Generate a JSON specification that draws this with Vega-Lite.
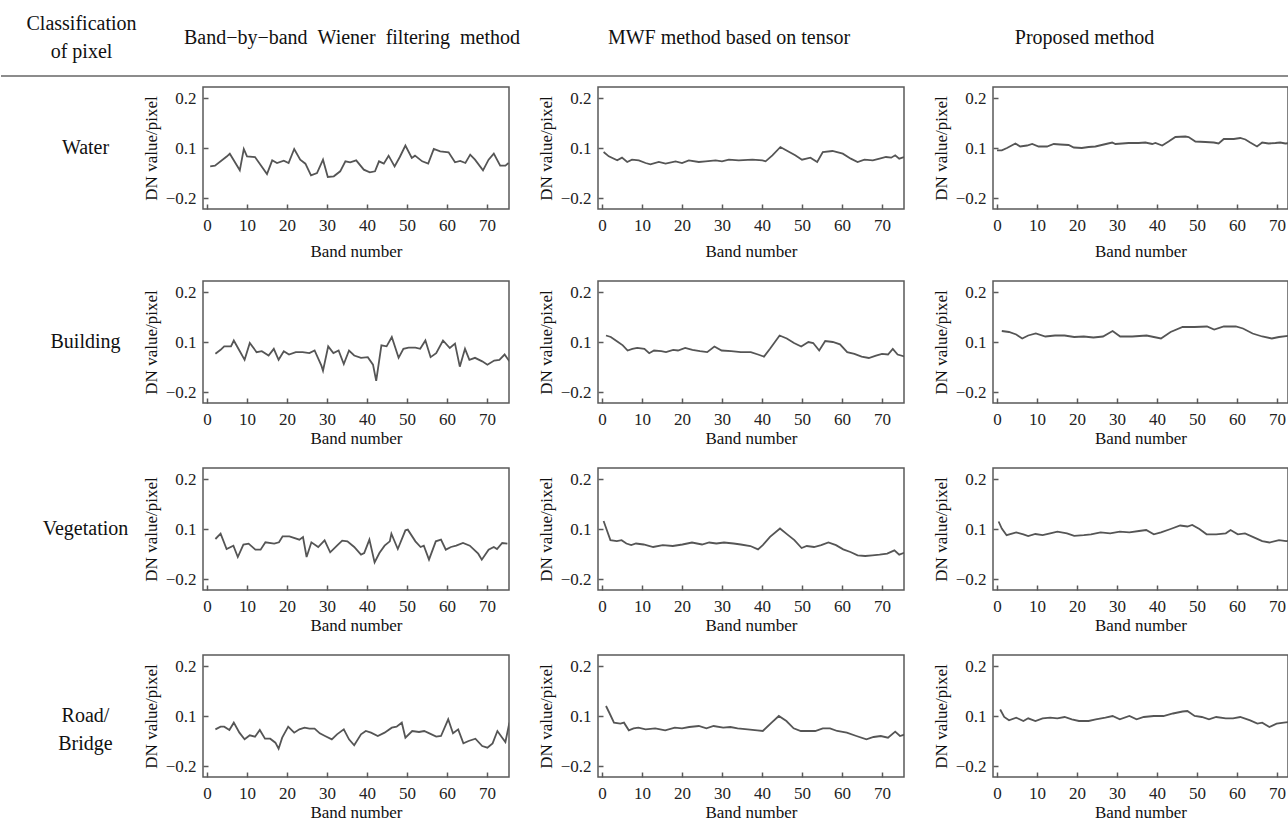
{
"$schema": "https://vega.github.io/schema/vega-lite/v6.json",
"padding": 0,
"background": "white",
"spacing": 0,
"config": {
  "font": "Liberation Serif",
  "view": {"stroke": "#5a5a5a", "strokeWidth": 1.5},
  "axis": {"grid": false, "domain": false, "tickColor": "#5a5a5a", "tickWidth": 1.5, "tickSize": -5, "labelFont": "Liberation Serif", "labelFontSize": 17, "labelColor": "#222", "titleFont": "Liberation Serif", "titleFontSize": 17, "titleFontWeight": "normal", "titleColor": "#111", "labelOverlap": false, "labelFlush": false},
  "axisX": {"labelPadding": 13},
  "axisY": {"labelPadding": 12, "titlePadding": 5},
  "line": {"color": "#555", "strokeWidth": 1.8},
  "text": {"font": "Liberation Serif", "fontSize": 20, "color": "#111"}
},
"datasets": {
"water_bbb": [{"band":0.8,"dn":-0.01},{"band":2,"dn":-0.006},{"band":5,"dn":0.05},{"band":5.7,"dn":0.066},{"band":8.2,"dn":-0.034},{"band":9.2,"dn":0.094},{"band":10,"dn":0.05},{"band":12,"dn":0.046},{"band":15,"dn":-0.056},{"band":16.3,"dn":0.026},{"band":17.5,"dn":0.01},{"band":19.2,"dn":0.024},{"band":20.4,"dn":0.01},{"band":21.8,"dn":0.094},{"band":23.3,"dn":0.03},{"band":24.6,"dn":0.006},{"band":26,"dn":-0.064},{"band":27.5,"dn":-0.05},{"band":29,"dn":0.03},{"band":30.2,"dn":-0.074},{"band":31.7,"dn":-0.07},{"band":33.3,"dn":-0.04},{"band":34.6,"dn":0.02},{"band":35.8,"dn":0.014},{"band":37.3,"dn":0.026},{"band":39.2,"dn":-0.03},{"band":40.7,"dn":-0.046},{"band":42,"dn":-0.04},{"band":43,"dn":0.02},{"band":44.2,"dn":0.006},{"band":45.4,"dn":0.054},{"band":46.9,"dn":-0.01},{"band":48.2,"dn":0.046},{"band":49.6,"dn":0.105},{"band":51.2,"dn":0.04},{"band":52,"dn":0.054},{"band":53.8,"dn":0.02},{"band":55.3,"dn":0.006},{"band":56.7,"dn":0.094},{"band":58.3,"dn":0.08},{"band":60.4,"dn":0.074},{"band":62,"dn":0.014},{"band":63.3,"dn":0.022},{"band":64.6,"dn":0.01},{"band":65.8,"dn":0.06},{"band":67,"dn":0.03},{"band":69,"dn":-0.034},{"band":70.4,"dn":0.03},{"band":71.7,"dn":0.066},{"band":73.3,"dn":-0.006},{"band":74.6,"dn":-0.006},{"band":75.4,"dn":0.01}],
"water_mwf": [{"band":0.4,"dn":0.076},{"band":1.7,"dn":0.05},{"band":3.8,"dn":0.026},{"band":5,"dn":0.042},{"band":6.3,"dn":0.016},{"band":7.5,"dn":0.03},{"band":9.2,"dn":0.026},{"band":10.9,"dn":0.01},{"band":12.1,"dn":0.002},{"band":14.2,"dn":0.016},{"band":15.9,"dn":0.006},{"band":18.4,"dn":0.02},{"band":20,"dn":0.01},{"band":21.7,"dn":0.026},{"band":24.2,"dn":0.016},{"band":25.9,"dn":0.02},{"band":28.4,"dn":0.026},{"band":30,"dn":0.02},{"band":31.7,"dn":0.03},{"band":34.2,"dn":0.026},{"band":37.6,"dn":0.03},{"band":40.1,"dn":0.026},{"band":40.9,"dn":0.02},{"band":42.6,"dn":0.056},{"band":44.6,"dn":0.102},{"band":45.8,"dn":0.09},{"band":48.3,"dn":0.056},{"band":50,"dn":0.03},{"band":52.1,"dn":0.042},{"band":53.8,"dn":0.016},{"band":55.2,"dn":0.076},{"band":57.6,"dn":0.082},{"band":60.2,"dn":0.066},{"band":62.2,"dn":0.036},{"band":63.9,"dn":0.016},{"band":65.6,"dn":0.03},{"band":67.7,"dn":0.026},{"band":69.4,"dn":0.036},{"band":71,"dn":0.046},{"band":72.3,"dn":0.042},{"band":73.3,"dn":0.056},{"band":74.3,"dn":0.036},{"band":75.5,"dn":0.046}],
"water_prop": [{"band":0,"dn":0.086},{"band":1.2,"dn":0.086},{"band":2.5,"dn":0.1},{"band":4.6,"dn":0.109},{"band":5.8,"dn":0.103},{"band":7.5,"dn":0.105},{"band":8.8,"dn":0.108},{"band":10.4,"dn":0.103},{"band":12.5,"dn":0.103},{"band":14.2,"dn":0.108},{"band":15.8,"dn":0.107},{"band":17.9,"dn":0.106},{"band":19.2,"dn":0.101},{"band":21.2,"dn":0.1},{"band":22.9,"dn":0.102},{"band":24.6,"dn":0.103},{"band":26.7,"dn":0.107},{"band":28.8,"dn":0.111},{"band":29.6,"dn":0.108},{"band":31.3,"dn":0.109},{"band":32.9,"dn":0.11},{"band":35.4,"dn":0.11},{"band":37.1,"dn":0.111},{"band":38.8,"dn":0.108},{"band":39.6,"dn":0.11},{"band":41.3,"dn":0.105},{"band":42.9,"dn":0.113},{"band":44.6,"dn":0.122},{"band":47.1,"dn":0.123},{"band":47.9,"dn":0.122},{"band":49.6,"dn":0.113},{"band":52.1,"dn":0.112},{"band":54.2,"dn":0.111},{"band":55.4,"dn":0.109},{"band":56.7,"dn":0.118},{"band":59.2,"dn":0.118},{"band":60.8,"dn":0.12},{"band":62.1,"dn":0.117},{"band":63.3,"dn":0.111},{"band":65,"dn":0.103},{"band":66.3,"dn":0.111},{"band":67.9,"dn":0.109},{"band":69.6,"dn":0.11},{"band":70.8,"dn":0.111},{"band":72.1,"dn":0.109},{"band":73.3,"dn":0.11}],
"building_bbb": [{"band":2.1,"dn":0.029},{"band":3.4,"dn":0.053},{"band":4.3,"dn":0.074},{"band":6,"dn":0.074},{"band":6.7,"dn":0.103},{"band":8.1,"dn":0.049},{"band":9.4,"dn":-0.007},{"band":10.7,"dn":0.094},{"band":12.4,"dn":0.039},{"band":13.7,"dn":0.045},{"band":15.4,"dn":0.019},{"band":16.7,"dn":0.059},{"band":17.9,"dn":-0.007},{"band":19.2,"dn":0.045},{"band":20.5,"dn":0.025},{"band":22.2,"dn":0.039},{"band":23.9,"dn":0.039},{"band":25.6,"dn":0.033},{"band":26.9,"dn":0.049},{"band":28.6,"dn":-0.042},{"band":29,"dn":-0.072},{"band":30.3,"dn":0.074},{"band":31.6,"dn":0.033},{"band":32.9,"dn":0.049},{"band":34.2,"dn":-0.032},{"band":35.5,"dn":0.049},{"band":36.8,"dn":0.019},{"band":38.5,"dn":0.005},{"band":40.2,"dn":0.009},{"band":41.5,"dn":-0.036},{"band":42.3,"dn":-0.133},{"band":43.6,"dn":0.08},{"band":44.9,"dn":0.074},{"band":46.2,"dn":0.11},{"band":47.9,"dn":0.005},{"band":49.1,"dn":0.059},{"band":50.4,"dn":0.066},{"band":52.1,"dn":0.066},{"band":53.3,"dn":0.059},{"band":54.6,"dn":0.103},{"band":55.9,"dn":0.009},{"band":57.3,"dn":0.033},{"band":59,"dn":0.103},{"band":60.7,"dn":0.064},{"band":62,"dn":0.09},{"band":63.2,"dn":-0.048},{"band":64.5,"dn":0.059},{"band":65.6,"dn":-0.007},{"band":67,"dn":0.005},{"band":68.8,"dn":-0.016},{"band":70.1,"dn":-0.036},{"band":71.8,"dn":-0.011},{"band":73.1,"dn":-0.007},{"band":74.4,"dn":0.025},{"band":75.6,"dn":-0.016}],
"building_mwf": [{"band":1,"dn":0.113},{"band":2.2,"dn":0.11},{"band":4,"dn":0.1},{"band":5.2,"dn":0.08},{"band":6.4,"dn":0.049},{"band":7.6,"dn":0.059},{"band":8.8,"dn":0.065},{"band":10.6,"dn":0.059},{"band":11.8,"dn":0.033},{"band":13,"dn":0.049},{"band":14.8,"dn":0.045},{"band":16,"dn":0.039},{"band":17.8,"dn":0.053},{"band":19,"dn":0.049},{"band":20.8,"dn":0.065},{"band":22.6,"dn":0.053},{"band":24.5,"dn":0.045},{"band":26.3,"dn":0.039},{"band":28.1,"dn":0.073},{"band":29.9,"dn":0.049},{"band":32.3,"dn":0.045},{"band":34.7,"dn":0.039},{"band":37.2,"dn":0.039},{"band":39,"dn":0.025},{"band":40.5,"dn":0.012},{"band":42,"dn":0.059},{"band":44.4,"dn":0.113},{"band":46.2,"dn":0.107},{"band":48,"dn":0.094},{"band":49.8,"dn":0.073},{"band":51.6,"dn":0.1},{"band":52.8,"dn":0.094},{"band":54.3,"dn":0.049},{"band":55.8,"dn":0.102},{"band":57.7,"dn":0.1},{"band":59.5,"dn":0.086},{"band":61.3,"dn":0.039},{"band":63.1,"dn":0.029},{"band":64.9,"dn":0.012},{"band":66.7,"dn":0.004},{"band":68.5,"dn":0.018},{"band":70,"dn":0.029},{"band":71.5,"dn":0.025},{"band":72.7,"dn":0.059},{"band":73.9,"dn":0.025},{"band":75.8,"dn":0.012}],
"building_prop": [{"band":1.2,"dn":0.122},{"band":3,"dn":0.12},{"band":4.8,"dn":0.115},{"band":6.3,"dn":0.107},{"band":7.8,"dn":0.113},{"band":9.7,"dn":0.117},{"band":12.1,"dn":0.111},{"band":14.5,"dn":0.113},{"band":16.9,"dn":0.113},{"band":19.3,"dn":0.11},{"band":21.7,"dn":0.111},{"band":24.1,"dn":0.109},{"band":26.5,"dn":0.111},{"band":28.9,"dn":0.122},{"band":30.8,"dn":0.111},{"band":33.8,"dn":0.111},{"band":37.4,"dn":0.113},{"band":39.2,"dn":0.11},{"band":41,"dn":0.107},{"band":43.4,"dn":0.12},{"band":46.4,"dn":0.13},{"band":49.4,"dn":0.13},{"band":52.5,"dn":0.131},{"band":54.3,"dn":0.125},{"band":56.7,"dn":0.131},{"band":59.7,"dn":0.131},{"band":61.5,"dn":0.127},{"band":63.9,"dn":0.117},{"band":66.3,"dn":0.111},{"band":68.7,"dn":0.107},{"band":70.5,"dn":0.11},{"band":73.3,"dn":0.113}],
"vegetation_bbb": [{"band":2.1,"dn":0.04},{"band":3.4,"dn":0.072},{"band":4.9,"dn":-0.02},{"band":6.6,"dn":0.0},{"band":7.7,"dn":-0.068},{"band":9.1,"dn":0.006},{"band":10.4,"dn":0.012},{"band":12.1,"dn":-0.024},{"band":13.4,"dn":-0.024},{"band":14.6,"dn":0.02},{"band":16.8,"dn":0.012},{"band":18,"dn":0.02},{"band":18.9,"dn":0.056},{"band":20.6,"dn":0.056},{"band":23.1,"dn":0.036},{"band":24,"dn":0.052},{"band":24.9,"dn":-0.068},{"band":26.1,"dn":0.02},{"band":27.8,"dn":-0.008},{"band":29.4,"dn":0.032},{"band":30.8,"dn":-0.04},{"band":32.5,"dn":0.0},{"band":33.8,"dn":0.03},{"band":35.1,"dn":0.026},{"band":36.8,"dn":-0.008},{"band":38.5,"dn":-0.054},{"band":39.3,"dn":-0.044},{"band":40.6,"dn":0.036},{"band":41.9,"dn":-0.1},{"band":43.1,"dn":-0.044},{"band":44.4,"dn":0.0},{"band":45.7,"dn":0.026},{"band":46.1,"dn":0.072},{"band":47.7,"dn":-0.02},{"band":49.6,"dn":0.092},{"band":50.2,"dn":0.096},{"band":52.1,"dn":0.026},{"band":53.4,"dn":-0.008},{"band":54.2,"dn":0.0},{"band":55.5,"dn":-0.084},{"band":57.2,"dn":0.026},{"band":58.5,"dn":0.036},{"band":59.7,"dn":-0.024},{"band":61,"dn":-0.008},{"band":62.3,"dn":0.0},{"band":64,"dn":0.016},{"band":65.7,"dn":0.0},{"band":67.8,"dn":-0.048},{"band":68.7,"dn":-0.084},{"band":70.4,"dn":-0.024},{"band":71.7,"dn":-0.008},{"band":72.5,"dn":-0.02},{"band":73.8,"dn":0.016},{"band":75.1,"dn":0.012}],
"vegetation_mwf": [{"band":0.4,"dn":0.116},{"band":1.2,"dn":0.094},{"band":2.1,"dn":0.033},{"band":3.7,"dn":0.027},{"band":4.9,"dn":0.033},{"band":6.1,"dn":0.013},{"band":7.3,"dn":0.003},{"band":8.5,"dn":0.013},{"band":10.4,"dn":0.007},{"band":12.8,"dn":-0.008},{"band":15.2,"dn":0.003},{"band":17.7,"dn":-0.002},{"band":20.1,"dn":0.007},{"band":22.5,"dn":0.019},{"band":25,"dn":0.007},{"band":26.8,"dn":0.019},{"band":28.6,"dn":0.013},{"band":30.5,"dn":0.019},{"band":32.9,"dn":0.013},{"band":34.7,"dn":0.007},{"band":37.1,"dn":-0.002},{"band":39,"dn":-0.022},{"band":40.2,"dn":0.003},{"band":42,"dn":0.053},{"band":44.5,"dn":0.101},{"band":46.3,"dn":0.068},{"band":48.1,"dn":0.033},{"band":49.9,"dn":-0.014},{"band":51.2,"dn":-0.002},{"band":53,"dn":-0.008},{"band":54.8,"dn":0.003},{"band":56.6,"dn":0.019},{"band":58.5,"dn":0.003},{"band":60.3,"dn":-0.022},{"band":62.1,"dn":-0.038},{"band":63.9,"dn":-0.058},{"band":65.8,"dn":-0.062},{"band":67.6,"dn":-0.058},{"band":69.4,"dn":-0.054},{"band":71.3,"dn":-0.048},{"band":73.1,"dn":-0.028},{"band":74.3,"dn":-0.054},{"band":76.1,"dn":-0.038}],
"vegetation_prop": [{"band":0.4,"dn":0.115},{"band":1.2,"dn":0.101},{"band":2.4,"dn":0.063},{"band":4.8,"dn":0.08},{"band":6.6,"dn":0.068},{"band":7.8,"dn":0.057},{"band":9.6,"dn":0.07},{"band":11.4,"dn":0.063},{"band":13.3,"dn":0.074},{"band":15.1,"dn":0.084},{"band":17.5,"dn":0.074},{"band":19.3,"dn":0.059},{"band":21.7,"dn":0.063},{"band":23.5,"dn":0.068},{"band":25.9,"dn":0.08},{"band":28.3,"dn":0.074},{"band":30.7,"dn":0.084},{"band":33.1,"dn":0.08},{"band":35.5,"dn":0.088},{"band":37.3,"dn":0.094},{"band":39.2,"dn":0.068},{"band":41,"dn":0.08},{"band":43.4,"dn":0.1},{"band":45.8,"dn":0.107},{"band":47.6,"dn":0.105},{"band":48.8,"dn":0.108},{"band":50.6,"dn":0.1},{"band":52.4,"dn":0.068},{"band":54.8,"dn":0.068},{"band":57.2,"dn":0.074},{"band":58.4,"dn":0.094},{"band":60.2,"dn":0.068},{"band":62,"dn":0.074},{"band":64.5,"dn":0.047},{"band":66.3,"dn":0.027},{"band":68.1,"dn":0.019},{"band":70.5,"dn":0.033},{"band":72.3,"dn":0.027},{"band":73.9,"dn":0.033}],
"road_bbb": [{"band":2.1,"dn":0.02},{"band":3.4,"dn":0.036},{"band":4.3,"dn":0.036},{"band":5.6,"dn":0.016},{"band":6.7,"dn":0.06},{"band":8.1,"dn":0.0},{"band":9.4,"dn":-0.04},{"band":10.7,"dn":-0.016},{"band":12,"dn":-0.024},{"band":13.2,"dn":0.016},{"band":14.5,"dn":-0.036},{"band":15.8,"dn":-0.036},{"band":17.1,"dn":-0.06},{"band":17.9,"dn":-0.096},{"band":18.8,"dn":-0.03},{"band":20.3,"dn":0.036},{"band":21.8,"dn":0.0},{"band":23.1,"dn":0.02},{"band":24.4,"dn":0.03},{"band":25.6,"dn":0.024},{"band":26.9,"dn":0.024},{"band":28.2,"dn":-0.004},{"band":29.5,"dn":-0.02},{"band":31.2,"dn":-0.04},{"band":32.5,"dn":-0.01},{"band":34.2,"dn":0.02},{"band":35.5,"dn":-0.04},{"band":36.8,"dn":-0.076},{"band":38.5,"dn":-0.01},{"band":39.7,"dn":0.01},{"band":41,"dn":0.0},{"band":42.7,"dn":-0.02},{"band":44.4,"dn":0.0},{"band":46.2,"dn":0.03},{"band":47.4,"dn":0.036},{"band":48.7,"dn":0.06},{"band":49.6,"dn":-0.03},{"band":51.3,"dn":0.01},{"band":53,"dn":0.004},{"band":54.3,"dn":0.01},{"band":55.6,"dn":-0.004},{"band":57.3,"dn":-0.024},{"band":58.5,"dn":-0.02},{"band":60.3,"dn":0.08},{"band":61.5,"dn":-0.004},{"band":62.8,"dn":0.02},{"band":64.1,"dn":-0.064},{"band":65.4,"dn":-0.05},{"band":67.1,"dn":-0.036},{"band":68.8,"dn":-0.08},{"band":70.1,"dn":-0.09},{"band":71.4,"dn":-0.064},{"band":72.6,"dn":0.01},{"band":73.8,"dn":-0.03},{"band":74.6,"dn":-0.056},{"band":75.6,"dn":0.06}],
"road_mwf": [{"band":1,"dn":0.12},{"band":1.8,"dn":0.107},{"band":3,"dn":0.06},{"band":4.6,"dn":0.054},{"band":5.5,"dn":0.06},{"band":6.7,"dn":0.014},{"band":7.9,"dn":0.026},{"band":9.1,"dn":0.03},{"band":10.9,"dn":0.02},{"band":13.3,"dn":0.026},{"band":15.8,"dn":0.014},{"band":18.2,"dn":0.03},{"band":20,"dn":0.026},{"band":21.8,"dn":0.034},{"band":24.2,"dn":0.04},{"band":26.1,"dn":0.026},{"band":27.9,"dn":0.04},{"band":30.3,"dn":0.03},{"band":32.1,"dn":0.034},{"band":33.9,"dn":0.026},{"band":36.4,"dn":0.02},{"band":38.8,"dn":0.014},{"band":40.2,"dn":0.01},{"band":42.4,"dn":0.06},{"band":44.2,"dn":0.1},{"band":46.1,"dn":0.07},{"band":47.9,"dn":0.026},{"band":49.7,"dn":0.01},{"band":53.3,"dn":0.01},{"band":55.2,"dn":0.026},{"band":57,"dn":0.026},{"band":58.8,"dn":0.01},{"band":61.2,"dn":0.0},{"band":63.6,"dn":-0.02},{"band":66.1,"dn":-0.04},{"band":67.9,"dn":-0.026},{"band":69.7,"dn":-0.02},{"band":71.5,"dn":-0.03},{"band":73.3,"dn":0.006},{"band":74.5,"dn":-0.02},{"band":75.8,"dn":-0.01}],
"road_prop": [{"band":0.8,"dn":0.113},{"band":1.8,"dn":0.094},{"band":3,"dn":0.074},{"band":4.8,"dn":0.09},{"band":6.6,"dn":0.07},{"band":7.8,"dn":0.086},{"band":9.6,"dn":0.07},{"band":11.4,"dn":0.086},{"band":13.3,"dn":0.09},{"band":15.1,"dn":0.086},{"band":16.9,"dn":0.094},{"band":18.7,"dn":0.08},{"band":20.5,"dn":0.07},{"band":22.9,"dn":0.07},{"band":24.7,"dn":0.08},{"band":27.1,"dn":0.09},{"band":28.9,"dn":0.1},{"band":30.7,"dn":0.08},{"band":33.1,"dn":0.1},{"band":34.9,"dn":0.08},{"band":36.7,"dn":0.094},{"band":39.2,"dn":0.1},{"band":41.6,"dn":0.1},{"band":44,"dn":0.105},{"band":46.4,"dn":0.109},{"band":47.6,"dn":0.11},{"band":49.4,"dn":0.1},{"band":51.2,"dn":0.094},{"band":53,"dn":0.08},{"band":54.8,"dn":0.094},{"band":57.2,"dn":0.086},{"band":59,"dn":0.086},{"band":60.8,"dn":0.094},{"band":63.3,"dn":0.074},{"band":65.1,"dn":0.054},{"band":66.3,"dn":0.06},{"band":68.1,"dn":0.034},{"band":69.9,"dn":0.054},{"band":71.7,"dn":0.06},{"band":73.9,"dn":0.066}]
},
"vconcat": [
  {"hconcat": [
    {"width":113,"height":75,"view":{"stroke":null},"data":{"values":[{"label":"Classification\nof pixel"}]},"mark":{"type":"text","lineBreak":"\n","lineHeight":28,"dx":24,"dy":-14},"encoding":{"text":{"field":"label","type":"nominal"}}},
    {"width":306,"height":75,"view":{"stroke":null},"data":{"values":[{"label":"Band−by−band\u2002Wiener\u2002filtering\u2002method"}]},"mark":{"type":"text","dx":-4},"encoding":{"text":{"field":"label","type":"nominal"}}},
    {"width":306,"height":75,"view":{"stroke":null},"data":{"values":[{"label":"MWF method based on tensor"}]},"mark":{"type":"text","dx":-22},"encoding":{"text":{"field":"label","type":"nominal"}}},
    {"width":295,"height":75,"view":{"stroke":null},"data":{"values":[{"label":"Proposed method"}]},"mark":{"type":"text","dx":-56},"encoding":{"text":{"field":"label","type":"nominal"}}}
  ], "spacing": 89, "bounds": "flush"},
  {"width":1288,"height":10,"view":{"stroke":null},"data":{"values":[{"sep":"rule"}]},"mark":{"type":"rule","color":"#666","strokeWidth":1.5},"encoding":{"y":{"value":0}}},
  {"vconcat": [
    {"hconcat": [
      {"width":113,"height":122,"view":{"stroke":null},"data":{"values":[{"label":"Water"}]},"mark":{"type":"text","dx":28},"encoding":{"text":{"field":"label","type":"nominal"}}},
      {"width":306,"height":122,"data":{"name":"water_bbb"},"mark":{"type":"line","clip":true},"encoding":{"x":{"field":"band","type":"quantitative","scale":{"domain":[-1,75.5],"nice":false,"zero":false},"axis":{"values":[0,10,20,30,40,50,60,70],"format":"d","title":"Band number","titlePadding":10}},"y":{"field":"dn","type":"quantitative","scale":{"domain":[-0.2,0.1,0.2],"range":[111,61,11],"nice":false,"zero":false},"axis":{"values":[-0.2,0.1,0.2],"format":".1f","title":"DN value/pixel"}}}},
      {"width":306,"height":122,"data":{"name":"water_mwf"},"mark":{"type":"line","clip":true},"encoding":{"x":{"field":"band","type":"quantitative","scale":{"domain":[-1,75.5],"nice":false,"zero":false},"axis":{"values":[0,10,20,30,40,50,60,70],"format":"d","title":"Band number","titlePadding":10}},"y":{"field":"dn","type":"quantitative","scale":{"domain":[-0.2,0.1,0.2],"range":[111,61,11],"nice":false,"zero":false},"axis":{"values":[-0.2,0.1,0.2],"format":".1f","title":"DN value/pixel"}}}},
      {"width":295,"height":122,"data":{"name":"water_prop"},"mark":{"type":"line","clip":true},"encoding":{"x":{"field":"band","type":"quantitative","scale":{"domain":[-1,72.75],"nice":false,"zero":false},"axis":{"values":[0,10,20,30,40,50,60,70],"format":"d","title":"Band number","titlePadding":10}},"y":{"field":"dn","type":"quantitative","scale":{"domain":[-0.2,0.1,0.2],"range":[111,61,11],"nice":false,"zero":false},"axis":{"values":[-0.2,0.1,0.2],"format":".1f","title":"DN value/pixel"}}}}
    ], "spacing": 89, "bounds": "flush"},
    {"hconcat": [
      {"width":113,"height":122,"view":{"stroke":null},"data":{"values":[{"label":"Building"}]},"mark":{"type":"text","dx":28},"encoding":{"text":{"field":"label","type":"nominal"}}},
      {"width":306,"height":122,"data":{"name":"building_bbb"},"mark":{"type":"line","clip":true},"encoding":{"x":{"field":"band","type":"quantitative","scale":{"domain":[-1,75.5],"nice":false,"zero":false},"axis":{"values":[0,10,20,30,40,50,60,70],"format":"d","title":"Band number","titlePadding":3}},"y":{"field":"dn","type":"quantitative","scale":{"domain":[-0.2,0.1,0.2],"range":[111,61,11],"nice":false,"zero":false},"axis":{"values":[-0.2,0.1,0.2],"format":".1f","title":"DN value/pixel"}}}},
      {"width":306,"height":122,"data":{"name":"building_mwf"},"mark":{"type":"line","clip":true},"encoding":{"x":{"field":"band","type":"quantitative","scale":{"domain":[-1,75.5],"nice":false,"zero":false},"axis":{"values":[0,10,20,30,40,50,60,70],"format":"d","title":"Band number","titlePadding":3}},"y":{"field":"dn","type":"quantitative","scale":{"domain":[-0.2,0.1,0.2],"range":[111,61,11],"nice":false,"zero":false},"axis":{"values":[-0.2,0.1,0.2],"format":".1f","title":"DN value/pixel"}}}},
      {"width":295,"height":122,"data":{"name":"building_prop"},"mark":{"type":"line","clip":true},"encoding":{"x":{"field":"band","type":"quantitative","scale":{"domain":[-1,72.75],"nice":false,"zero":false},"axis":{"values":[0,10,20,30,40,50,60,70],"format":"d","title":"Band number","titlePadding":3}},"y":{"field":"dn","type":"quantitative","scale":{"domain":[-0.2,0.1,0.2],"range":[111,61,11],"nice":false,"zero":false},"axis":{"values":[-0.2,0.1,0.2],"format":".1f","title":"DN value/pixel"}}}}
    ], "spacing": 89, "bounds": "flush"},
    {"hconcat": [
      {"width":113,"height":122,"view":{"stroke":null},"data":{"values":[{"label":"Vegetation"}]},"mark":{"type":"text","dx":28},"encoding":{"text":{"field":"label","type":"nominal"}}},
      {"width":306,"height":122,"data":{"name":"vegetation_bbb"},"mark":{"type":"line","clip":true},"encoding":{"x":{"field":"band","type":"quantitative","scale":{"domain":[-1,75.5],"nice":false,"zero":false},"axis":{"values":[0,10,20,30,40,50,60,70],"format":"d","title":"Band number","titlePadding":3}},"y":{"field":"dn","type":"quantitative","scale":{"domain":[-0.2,0.1,0.2],"range":[111,61,11],"nice":false,"zero":false},"axis":{"values":[-0.2,0.1,0.2],"format":".1f","title":"DN value/pixel"}}}},
      {"width":306,"height":122,"data":{"name":"vegetation_mwf"},"mark":{"type":"line","clip":true},"encoding":{"x":{"field":"band","type":"quantitative","scale":{"domain":[-1,75.5],"nice":false,"zero":false},"axis":{"values":[0,10,20,30,40,50,60,70],"format":"d","title":"Band number","titlePadding":3}},"y":{"field":"dn","type":"quantitative","scale":{"domain":[-0.2,0.1,0.2],"range":[111,61,11],"nice":false,"zero":false},"axis":{"values":[-0.2,0.1,0.2],"format":".1f","title":"DN value/pixel"}}}},
      {"width":295,"height":122,"data":{"name":"vegetation_prop"},"mark":{"type":"line","clip":true},"encoding":{"x":{"field":"band","type":"quantitative","scale":{"domain":[-1,72.75],"nice":false,"zero":false},"axis":{"values":[0,10,20,30,40,50,60,70],"format":"d","title":"Band number","titlePadding":3}},"y":{"field":"dn","type":"quantitative","scale":{"domain":[-0.2,0.1,0.2],"range":[111,61,11],"nice":false,"zero":false},"axis":{"values":[-0.2,0.1,0.2],"format":".1f","title":"DN value/pixel"}}}}
    ], "spacing": 89, "bounds": "flush"},
    {"hconcat": [
      {"width":113,"height":122,"view":{"stroke":null},"data":{"values":[{"label":"Road/\nBridge"}]},"mark":{"type":"text","dx":28,"lineBreak":"\n","lineHeight":28},"encoding":{"text":{"field":"label","type":"nominal"}}},
      {"width":306,"height":122,"data":{"name":"road_bbb"},"mark":{"type":"line","clip":true},"encoding":{"x":{"field":"band","type":"quantitative","scale":{"domain":[-1,75.5],"nice":false,"zero":false},"axis":{"values":[0,10,20,30,40,50,60,70],"format":"d","title":"Band number","titlePadding":3}},"y":{"field":"dn","type":"quantitative","scale":{"domain":[-0.2,0.1,0.2],"range":[111,61,11],"nice":false,"zero":false},"axis":{"values":[-0.2,0.1,0.2],"format":".1f","title":"DN value/pixel"}}}},
      {"width":306,"height":122,"data":{"name":"road_mwf"},"mark":{"type":"line","clip":true},"encoding":{"x":{"field":"band","type":"quantitative","scale":{"domain":[-1,75.5],"nice":false,"zero":false},"axis":{"values":[0,10,20,30,40,50,60,70],"format":"d","title":"Band number","titlePadding":3}},"y":{"field":"dn","type":"quantitative","scale":{"domain":[-0.2,0.1,0.2],"range":[111,61,11],"nice":false,"zero":false},"axis":{"values":[-0.2,0.1,0.2],"format":".1f","title":"DN value/pixel"}}}},
      {"width":295,"height":122,"data":{"name":"road_prop"},"mark":{"type":"line","clip":true},"encoding":{"x":{"field":"band","type":"quantitative","scale":{"domain":[-1,72.75],"nice":false,"zero":false},"axis":{"values":[0,10,20,30,40,50,60,70],"format":"d","title":"Band number","titlePadding":3}},"y":{"field":"dn","type":"quantitative","scale":{"domain":[-0.2,0.1,0.2],"range":[111,61,11],"nice":false,"zero":false},"axis":{"values":[-0.2,0.1,0.2],"format":".1f","title":"DN value/pixel"}}}}
    ], "spacing": 89, "bounds": "flush"}
  ], "spacing": 20}
]
}
